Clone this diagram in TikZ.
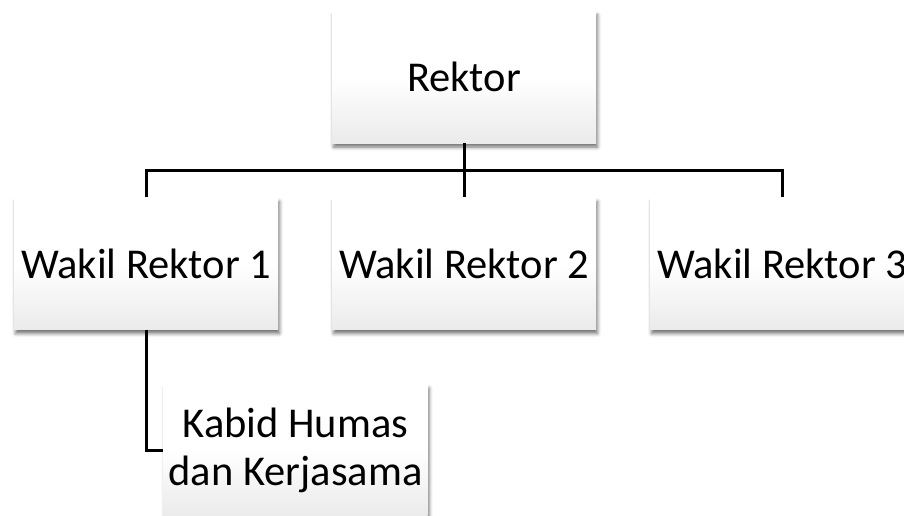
\documentclass[tikz,border=0pt]{standalone}
\usepackage{fontspec}
\setmainfont{Carlito}
\usetikzlibrary{shadows.blur}
\pgfdeclareverticalshading{boxshade}{100bp}{color(0bp)=(black!13); color(25bp)=(black!8); color(50bp)=(white); color(100bp)=(white)}
\tikzset{
  orgbox/.style={rectangle, minimum width=264pt, minimum height=132pt, inner sep=0pt,
    shading=boxshade, align=center, font=\fontsize{42.5}{48}\selectfont,
    blur shadow={shadow xshift=1.5pt, shadow yshift=-4pt, shadow blur radius=3.5pt, shadow opacity=55}},
  conn/.style={draw=black, line width=3pt}
}
\begin{document}
\begin{tikzpicture}[x=1pt, y=-1pt]
\useasboundingbox (0,0) rectangle (904,516);
\clip (0,0) rectangle (904,516);
\node[orgbox] (R) at (464,77) {Rektor};
\node[orgbox] (W1) at (146,263.5) {Wakil Rektor 1};
\node[orgbox] (W2) at (464,263.5) {Wakil Rektor 2};
\node[orgbox] (W3) at (782,263.5) {Wakil Rektor 3};
\node[orgbox] (K) at (295.5,450) {Kabid Humas\\dan Kerjasama};
\coordinate (J) at (464,170);
\draw[conn] (R.south) -- (W2.north);
\draw[conn] (W1.north) |- (J) -| (W3.north);
\draw[conn] (W1.south) |- (K.west);
\end{tikzpicture}
\end{document}
